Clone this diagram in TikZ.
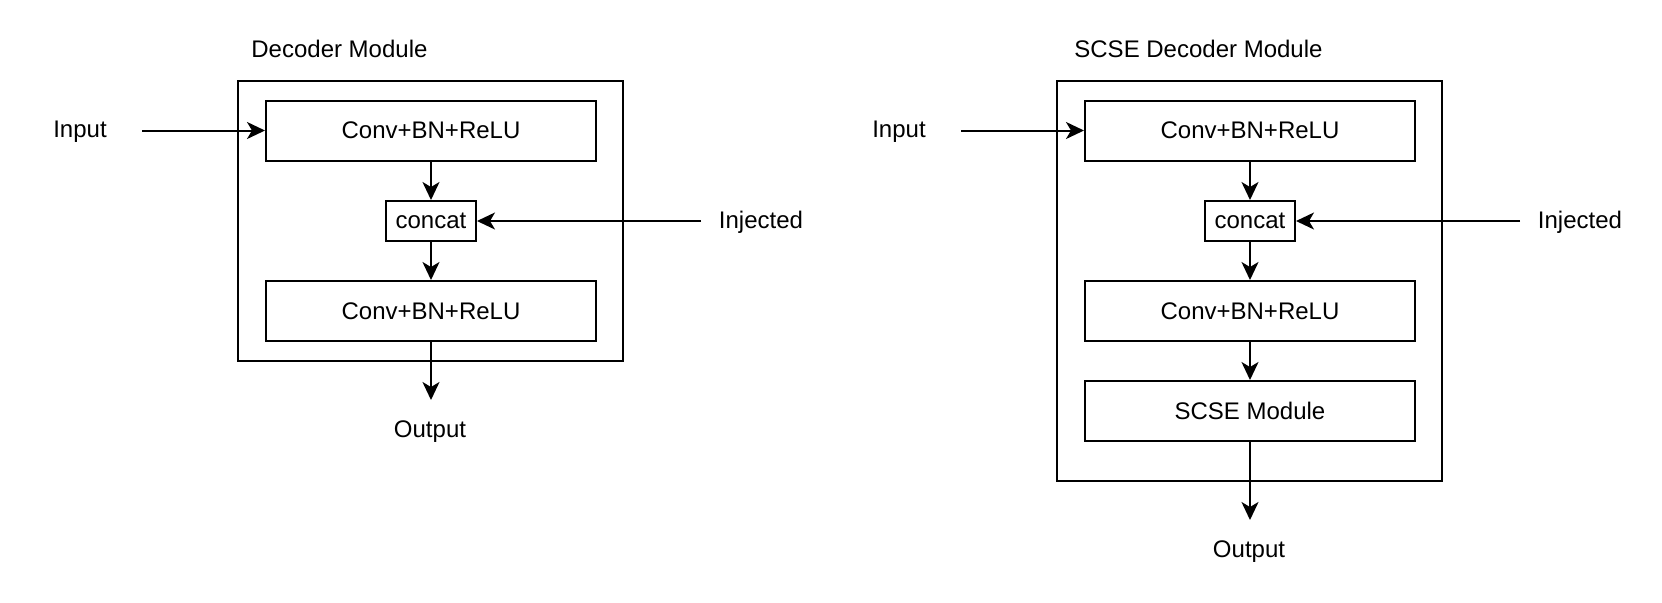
\documentclass[tikz,border=0pt]{standalone}
\usepackage{fontspec}
\setmainfont{Liberation Sans}
\usetikzlibrary{arrows.meta}

\begin{document}
\begin{tikzpicture}[x=0.5pt, y=-0.5pt, font=\fontsize{12}{14}\selectfont,
    block/.style={draw, line width=1pt, minimum width=165pt, minimum height=30pt, inner sep=0pt},
    catbox/.style={draw, line width=1pt, minimum width=45pt, minimum height=20pt, inner sep=0pt},
    frame/.style={draw, line width=1pt, minimum width=192.5pt, inner sep=0pt},
    lbl/.style={inner sep=0pt, text height=8.6pt, text depth=0pt},
    arr/.style={line width=1pt, -{Stealth[length=9pt, width=8.5pt, inset=2.5pt]}}]
      \useasboundingbox (0, 0) rectangle (1662, 602);

      \node[lbl, anchor=west] (titleL) at (251, 49) {Decoder Module};
      \node[frame, minimum height=140pt] (frameL) at (430.5, 221) {};
      \node[block] (convLa) at (431, 130.5) {Conv+BN+ReLU};
      \node[catbox] (catL) at (431, 221) {concat};
      \node[block] (convLb) at (431, 311) {Conv+BN+ReLU};

      \node[lbl] (inL) at (80, 129) {Input};
      \node[lbl] (injL) at (761, 219.5) {Injected};
      \node[lbl] (outL) at (430, 428.5) {Output};
      \coordinate (inLs) at (142, 130.5);
      \coordinate (injLs) at (701, 221);
      \coordinate (outLe) at (431, 400);

      \draw[arr] (inLs) -- (convLa.west);
      \draw[arr] (convLa.south) -- (catL.north);
      \draw[arr] (injLs) -- (catL.east);
      \draw[arr] (catL.south) -- (convLb.north);
      \draw[arr] (convLb.south) -- (outLe);

      \node[lbl, anchor=west] (titleR) at (1074, 49) {SCSE Decoder Module};
      \node[frame, minimum height=200pt] (frameR) at (1249.5, 281) {};
      \node[block] (convRa) at (1250, 130.5) {Conv+BN+ReLU};
      \node[catbox] (catR) at (1250, 221) {concat};
      \node[block] (convRb) at (1250, 311) {Conv+BN+ReLU};
      \node[block] (seR) at (1250, 411) {SCSE Module};

      \node[lbl] (inR) at (899, 129) {Input};
      \node[lbl] (injR) at (1580, 219.5) {Injected};
      \node[lbl] (outR) at (1249, 548.5) {Output};
      \coordinate (inRs) at (961, 130.5);
      \coordinate (injRs) at (1520, 221);
      \coordinate (outRe) at (1250, 520);

      \draw[arr] (inRs) -- (convRa.west);
      \draw[arr] (convRa.south) -- (catR.north);
      \draw[arr] (injRs) -- (catR.east);
      \draw[arr] (catR.south) -- (convRb.north);
      \draw[arr] (convRb.south) -- (seR.north);
      \draw[arr] (seR.south) -- (outRe);
    \end{tikzpicture}
\end{document}
